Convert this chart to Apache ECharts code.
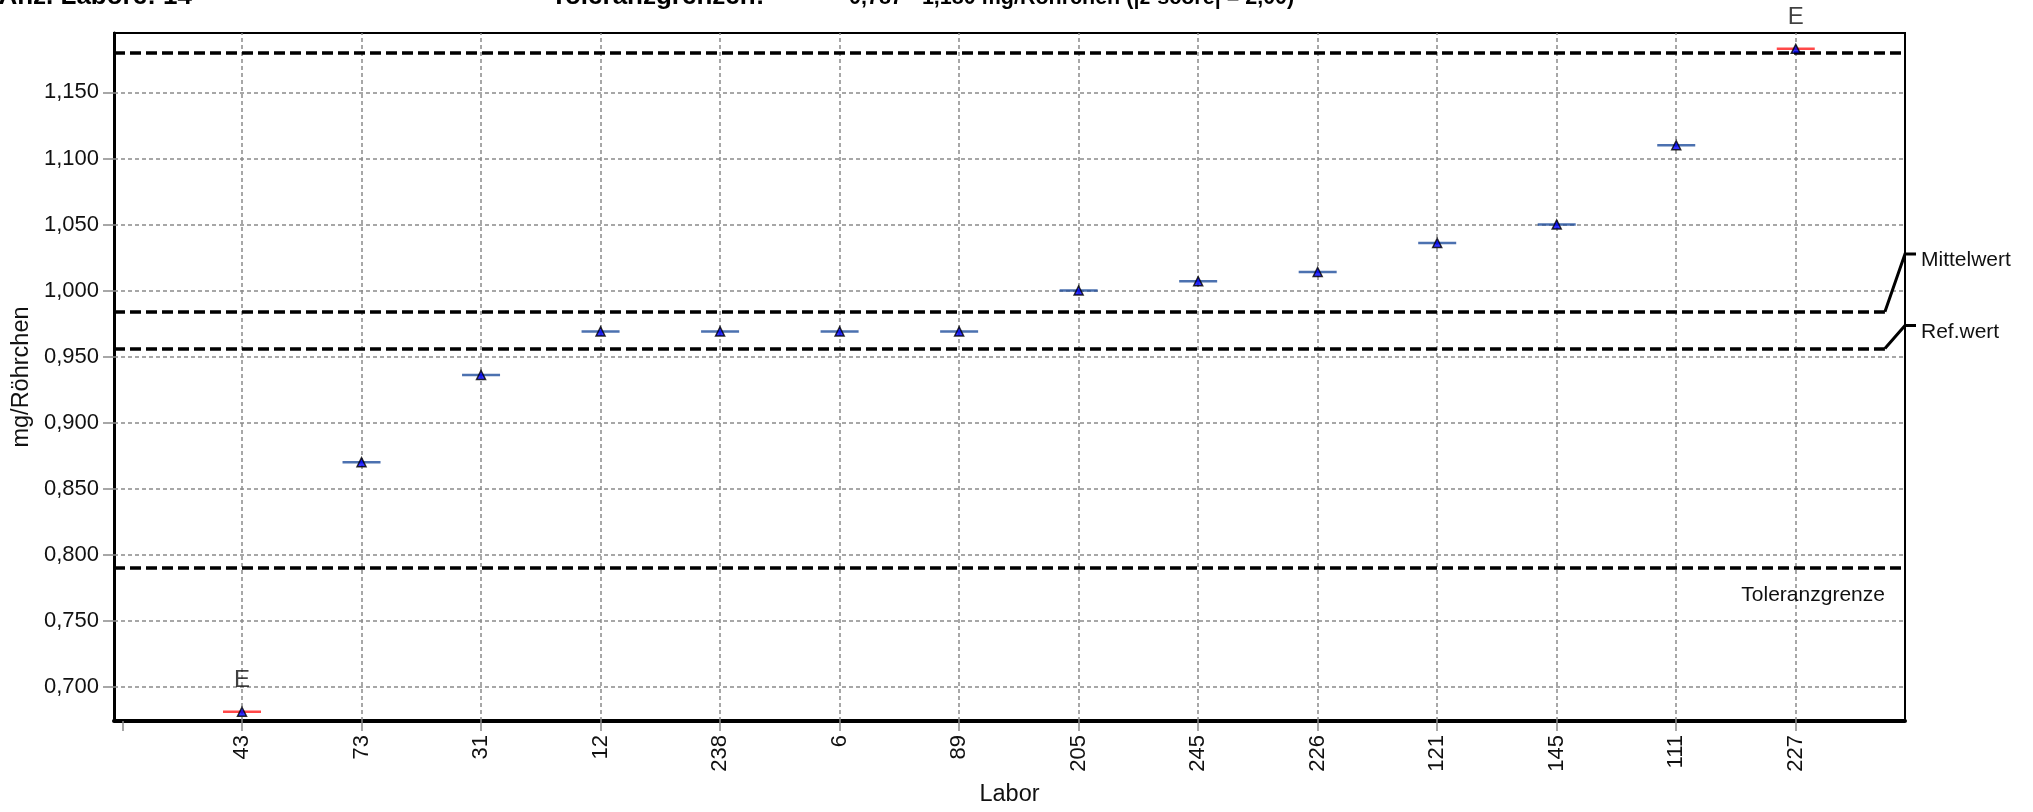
<!DOCTYPE html>
<html>
<head>
<meta charset="utf-8">
<script src="https://cdn.jsdelivr.net/npm/echarts@6/dist/echarts.min.js"></script>
<style>
  html, body { margin: 0; padding: 0; background: #ffffff; }
  #chart { width: 2033px; height: 812px; }
</style>
</head>
<body>
<div id="chart"></div>
<script>
// Laboratory results, ordered by value
const labs   = ['43', '73', '31', '12', '238', '6', '89', '205', '245', '226', '121', '145', '111', '227'];
const values = [0.681, 0.870, 0.936, 0.969, 0.969, 0.969, 0.969, 1.000, 1.007, 1.014, 1.036, 1.050, 1.110, 1.183];
const flags  = ['E', '', '', '', '', '', '', '', '', '', '', '', '', 'E'];

// Reference lines
const tolLow = 0.787;
const tolHigh = 1.180;
const meanValue = 0.984;
const refValue = 0.956;

// Axis ticks
const yTicks = [0.70, 0.75, 0.80, 0.85, 0.90, 0.95, 1.00, 1.05, 1.10, 1.15];
const xTicks = [0, 1, 2, 3, 4, 5, 6, 7, 8, 9, 10, 11, 12, 13, 14];

// Header texts
const headerLeft = 'Anz. Labore: 14';
const headerMid = 'Toleranzgrenzen:';
const headerRange = '0,787 - 1,180 mg/Röhrchen (|z-score| = 2,00)';

const X_MIN = -0.071, X_MAX = 14.914, Y_MIN = 0.674, Y_MAX = 1.195;
const DASH_END = 14.746;

const FONT = '"Liberation Sans", Arial, sans-serif';
const GRID_COLOR = '#8a8a8a';
const BAR_BLUE = '#1f4e9c';
const BAR_RED = '#ff1a1a';

const fmtComma = v => v.toFixed(3).replace('.', ',');

const points = labs.map((l, i) => [i + 1, values[i]]);

const chart = echarts.init(document.getElementById('chart'), null, { renderer: 'canvas' });

const option = {
  animation: false,
  backgroundColor: '#ffffff',
  textStyle: { fontFamily: FONT },
  grid: {
    left: 114, top: 33, width: 1791, height: 695,
    show: true, borderColor: '#000000', borderWidth: 2, backgroundColor: 'transparent'
  },
  xAxis: {
    type: 'value',
    min: X_MIN, max: X_MAX,
    name: 'Labor',
    nameLocation: 'middle',
    nameGap: 62,
    nameTextStyle: { fontSize: 23.5, color: '#111', fontFamily: FONT },
    axisLine: { show: true, onZero: false, lineStyle: { color: '#000', width: 4 } },
    axisTick: {
      show: true, length: 10, customValues: xTicks,
      lineStyle: { color: GRID_COLOR, width: 1.5 }
    },
    axisLabel: {
      show: true, rotate: 90, margin: 14, fontSize: 22, color: '#111', fontFamily: FONT,
      customValues: xTicks.slice(1),
      formatter: v => labs[Math.round(v) - 1] || ''
    },
    splitLine: { show: false }
  },
  yAxis: {
    type: 'value',
    min: Y_MIN, max: Y_MAX,
    name: 'mg/Röhrchen',
    nameLocation: 'middle',
    nameGap: 77,
    nameTextStyle: { fontSize: 23.5, color: '#111', fontFamily: FONT },
    axisLine: { show: true, onZero: false, lineStyle: { color: '#000', width: 3 } },
    axisTick: {
      show: true, length: 11, customValues: yTicks,
      lineStyle: { color: GRID_COLOR, width: 1.5 }
    },
    axisLabel: {
      show: true, margin: 15, fontSize: 22, color: '#111', fontFamily: FONT,
      customValues: yTicks,
      formatter: v => fmtComma(v)
    },
    splitLine: { show: false }
  },
  series: [
    {
      // dotted grid
      type: 'line', data: [], z: 1, silent: true,
      markLine: {
        silent: true, symbol: ['none', 'none'], animation: false,
        label: { show: false },
        lineStyle: { color: GRID_COLOR, width: 1.5, type: [4, 3] },
        emphasis: { disabled: true },
        data: [
          ...xTicks.slice(1).map(v => ({ xAxis: v })),
          ...yTicks.map(v => ({ yAxis: v }))
        ]
      }
    },
    {
      // tolerance limits, mean and reference value
      type: 'line', data: [], z: 2, silent: true,
      markLine: {
        silent: true, symbol: ['none', 'none'], animation: false,
        label: { show: false },
        lineStyle: { color: '#000000', width: 3.5, type: [11, 5] },
        emphasis: { disabled: true },
        data: [
          { yAxis: tolLow },
          { yAxis: tolHigh },
          [{ coord: [X_MIN, meanValue] }, { coord: [DASH_END, meanValue] }],
          [{ coord: [X_MIN, refValue] }, { coord: [DASH_END, refValue] }]
        ]
      }
    },
    {
      // horizontal result bars
      type: 'scatter', z: 5, silent: true,
      symbol: 'rect', symbolSize: [38, 2.5],
      data: points.map((p, i) => ({
        value: p,
        itemStyle: { color: flags[i] ? BAR_RED : BAR_BLUE },
        label: {
          show: !!flags[i], formatter: flags[i], position: 'top', distance: 18,
          fontSize: 24, color: '#111', fontFamily: FONT
        }
      }))
    },
    {
      // result markers
      type: 'scatter', z: 6, silent: true,
      symbol: 'triangle', symbolSize: 9,
      itemStyle: { color: '#0000ff', borderColor: '#000000', borderWidth: 1.5 },
      data: points
    }
  ]
};

chart.setOption(option);

// Side annotations placed relative to the reference lines
const px = (x, y) => chart.convertToPixel({ gridIndex: 0 }, [x, y]);
const mEnd = px(DASH_END, meanValue), mBorder = px(X_MAX, meanValue);
const rEnd = px(DASH_END, refValue), rBorder = px(X_MAX, refValue);
const tLow = px(DASH_END, tolLow);
const mLabelY = mEnd[1] - 57.6;
const rLabelY = rEnd[1] - 23;

const sideText = (x, y, text) => ({
  type: 'text', x: x, y: y, z: 20, silent: true,
  style: { text: text, fontSize: 21, fontFamily: FONT, fill: '#111', align: 'left', verticalAlign: 'top' }
});
const connector = (start, border, labelY) => ({
  type: 'polyline', z: 20, silent: true,
  shape: { points: [[start[0], start[1]], [border[0], labelY], [border[0] + 11, labelY]] },
  style: { stroke: '#000', lineWidth: 3, fill: null }
});
const headerText = (x, y, text, size, align) => ({
  type: 'text', x: x, y: y, silent: true,
  style: { text: text, fontSize: size, fontWeight: 'bold', fontFamily: FONT, fill: '#000', align: align, verticalAlign: 'bottom' }
});

chart.setOption({
  graphic: [
    headerText(192, 10, headerLeft, 26, 'right'),
    headerText(551, 10, headerMid, 26, 'left'),
    headerText(849, 9.5, headerRange, 21.5, 'left'),
    connector(mEnd, mBorder, mLabelY),
    connector(rEnd, rBorder, rLabelY),
    sideText(mBorder[0] + 16, mLabelY - 4, 'Mittelwert'),
    sideText(rBorder[0] + 16, rLabelY - 4, 'Ref.wert'),
    {
      type: 'text', x: tLow[0], y: tLow[1] + 23, z: 20, silent: true,
      style: { text: 'Toleranzgrenze', fontSize: 21, fontFamily: FONT, fill: '#111', align: 'right', verticalAlign: 'middle' }
    }
  ]
});
</script>
</body>
</html>
